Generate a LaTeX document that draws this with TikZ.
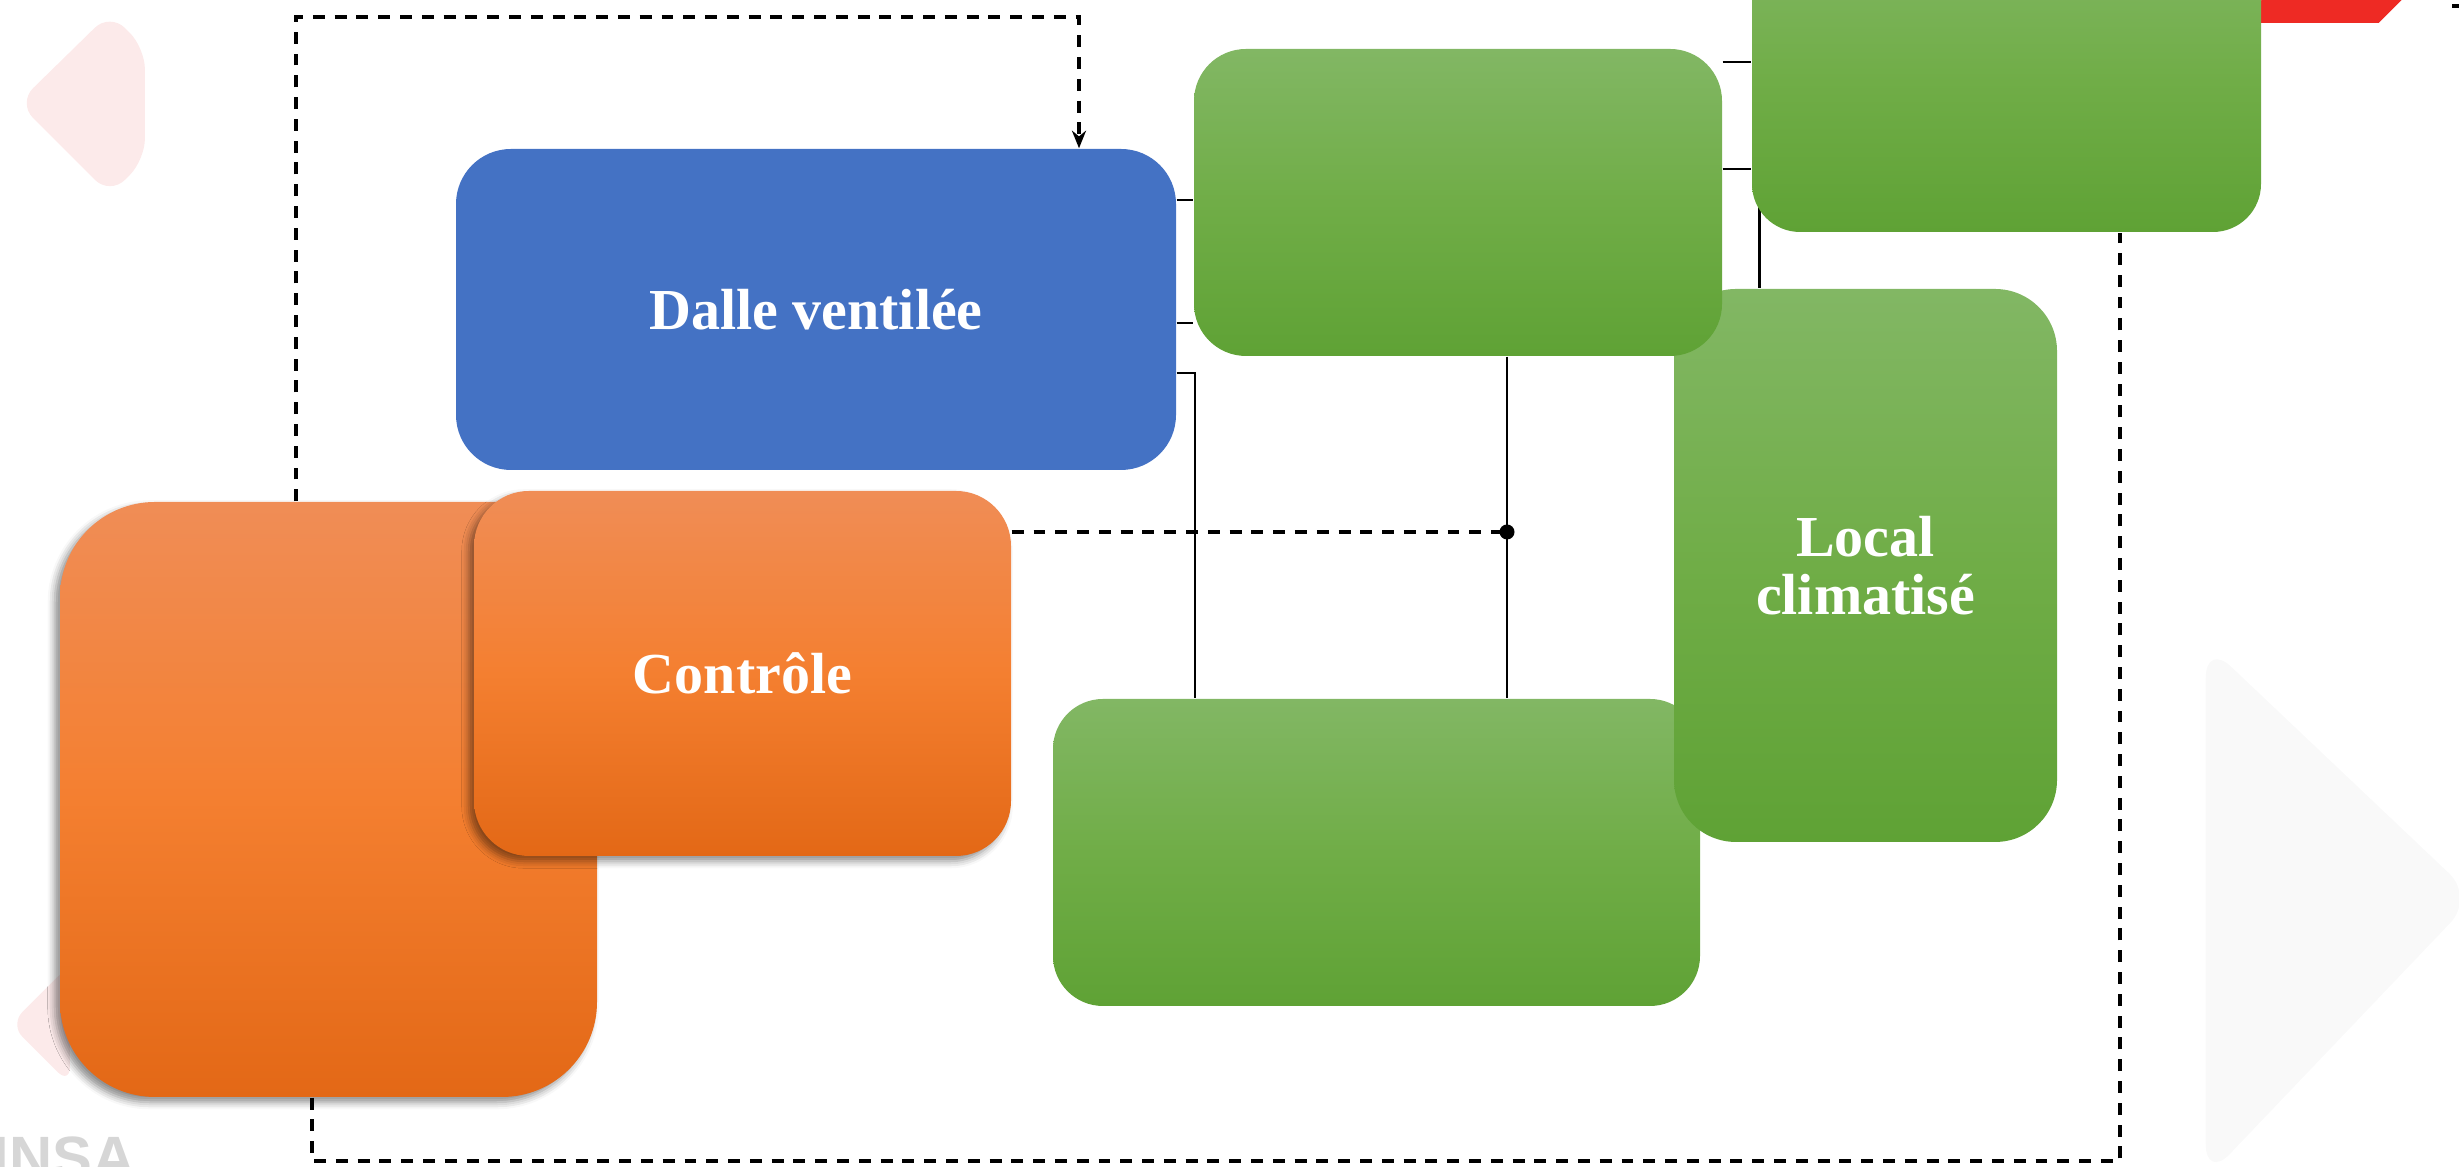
\documentclass[tikz,border=0pt]{standalone}
\usepackage{fontspec}
\setmainfont{Liberation Serif}
\newfontfamily\logofont{Liberation Sans}
\usetikzlibrary{arrows.meta,shadows.blur}

\definecolor{bleudalle}{HTML}{4472C4}
\definecolor{vertclair}{HTML}{82B764}
\definecolor{vertmoyen}{HTML}{70AD47}
\definecolor{vertfonce}{HTML}{5FA235}
\definecolor{orangeclair}{HTML}{F08D56}
\definecolor{orangemoyen}{HTML}{F47F30}
\definecolor{orangefonce}{HTML}{E36816}
\definecolor{rosepale}{HTML}{FCEAEA}
\definecolor{rougelogo}{HTML}{EE2A24}
\definecolor{grispale}{HTML}{F9F9F9}
\definecolor{grislogo}{HTML}{D6D6D6}

\pgfdeclarelayer{fond}
\pgfdeclarelayer{liens}
\pgfsetlayers{fond,liens,main}

\tikzset{
  bloc/.style={rounded corners=0.55cm, inner sep=0pt, text=white, align=center,
    font=\bfseries\fontsize{16.5}{16.5}\selectfont},
  blocbleu/.style={bloc, fill=bleudalle},
  blocvert/.style={bloc, top color=vertclair, bottom color=vertfonce, middle color=vertmoyen},
  blocorange/.style={bloc, top color=orangeclair, bottom color=orangefonce, middle color=orangemoyen,
    blur shadow={shadow xshift=-1.5pt, shadow yshift=-1.5pt, shadow opacity=45, shadow blur radius=2pt}},
  tirets/.style={line width=1pt, dash pattern=on 3.4pt off 2.8pt},
  lien/.style={line width=0.75pt},
}

\begin{document}
\begin{tikzpicture}

	\useasboundingbox (0,0) rectangle (24.59,11.67);
	\clip (0,0) rectangle (24.59,11.67);

	\node[blocorange, rounded corners=0.95cm, minimum width=5.37cm, minimum height=5.95cm] (grandorange) at (3.285,3.675) {};
	\node[blocorange, minimum width=5.37cm, minimum height=3.65cm] (controle) at (7.425,4.935) {Contrôle};
	\node[blocbleu, minimum width=7.2cm, minimum height=3.21cm] (dalle) at (8.16,8.575) {Dalle ventilée};
	\node[blocvert, rounded corners=0.5cm, minimum width=6.47cm, minimum height=3.07cm] (vertbas) at (13.765,3.145) {};
	\node[blocvert, rounded corners=0.62cm, minimum width=3.83cm, minimum height=5.53cm] (local) at (18.655,6.015) {Local\\climatisé};
	\node[blocvert, rounded corners=0.52cm, minimum width=5.28cm, minimum height=3.07cm] (vertmilieu) at (14.58,9.645) {};
	\node[blocvert, rounded corners=0.48cm, minimum width=5.09cm, minimum height=3.02cm] (vertcoin) at (20.065,10.86) {};

	% liaisons, sous les blocs
	\begin{pgfonlayer}{liens}
		\clip (0,0) rectangle (24.59,11.67);
		\coordinate (hautgauche) at (2.96,11.50);
		\coordinate (basgauche) at (3.12,0.06);
		\coordinate (jonction) at (15.07,6.35);
		\coordinate (bordhaut) at (24.59,11.61);

		\draw[tirets, -{Stealth[length=5pt,width=4pt]}] (grandorange.north -| hautgauche) -- (hautgauche) -| ([xshift=2.63cm]dalle.north);
		\draw[tirets] (grandorange.south -| basgauche) -- (basgauche) -| ([xshift=1.135cm]vertcoin.south);
		\draw[tirets] (controle.east |- jonction) -- (jonction);

		\draw[lien] ([yshift=1.095cm]dalle.east) coordinate (d1) -- (d1 -| vertmilieu.west);
		\draw[lien] ([yshift=-0.135cm]dalle.east) coordinate (d2) -- (d2 -| vertmilieu.west);
		\draw[lien] ([yshift=-0.635cm]dalle.east) -| ([xshift=-1.815cm]vertbas.north);
		\draw[lien] ([xshift=0.49cm]vertmilieu.south) -- (jonction) -- (jonction |- vertbas.north);
		\fill (jonction) circle (0.075);
		\draw[lien] ([yshift=1.405cm]vertmilieu.east) coordinate (m1) -- (m1 -| vertcoin.west);
		\draw[lien] ([yshift=0.335cm]vertmilieu.east) coordinate (m2) -- (m2 -| vertcoin.west);
		\draw[lien] ([xshift=0.08cm,yshift=0.4cm]vertcoin.south west) coordinate (c1) -- (c1 |- local.north);
		\draw[line width=1pt] (bordhaut) -- ++(-0.07,0);
	\end{pgfonlayer}

	% fond de la diapositive
	\begin{pgfonlayer}{fond}
		\clip (0,0) rectangle (24.59,11.67);
		\begin{scope}[shift={(0cm,11.67cm)}, x=0.01cm, y=-0.01cm]
			\fill[rosepale, rounded corners=6pt] (145,48) -- (110,13) -- (18,103) -- (110,195) -- (145,160) -- cycle;
			\fill[rosepale, rounded corners=5pt] (70,965) -- (10,1025) -- (70,1085) -- cycle;
			\fill[rougelogo] (2240,23) -- (2380,23) -- (2408,-5) -- (2268,-5) -- cycle;
			\fill[grispale, rounded corners=10pt] (2207,643) -- (2476,898) -- (2207,1180) -- cycle;
			\begin{scope}
				\clip (0,1100) rectangle (145,1200);
				\node[anchor=north west, inner sep=0pt, text=grislogo, font=\logofont\bfseries\fontsize{17}{17}\selectfont] (logo) at (-8,1137) {INSA};
			\end{scope}
		\end{scope}
	\end{pgfonlayer}

\end{tikzpicture}
\end{document}
